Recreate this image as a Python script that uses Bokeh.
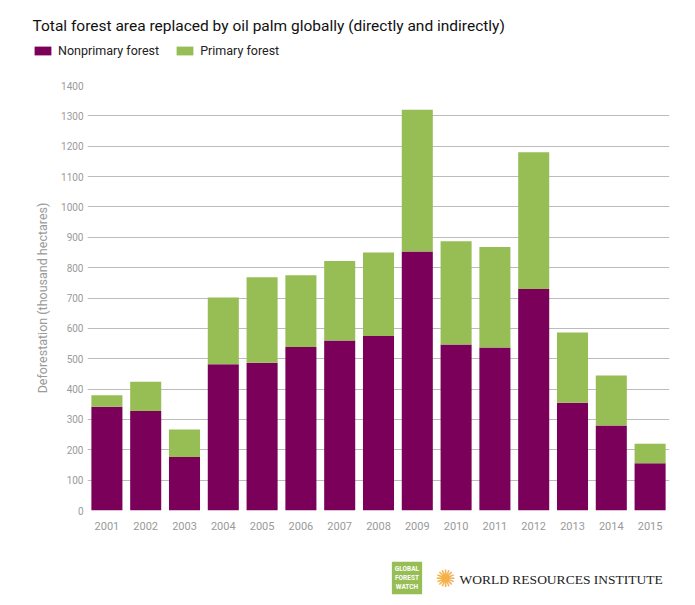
from bokeh.plotting import figure
from bokeh.models import FactorRange, Range1d, FixedTicker, Label, Legend, LegendItem
from bokeh.embed import file_html
from bokeh.resources import INLINE

years = ["2001", "2002", "2003", "2004", "2005", "2006", "2007", "2008",
         "2009", "2010", "2011", "2012", "2013", "2014", "2015"]
nonprimary = [342, 328, 176, 482, 487, 539, 560, 575, 853, 547, 537, 730, 355, 280, 156]
primary = [38, 96, 91, 220, 281, 236, 262, 275, 467, 340, 331, 450, 231, 165, 64]
y_ticks = [0, 100, 200, 300, 400, 500, 600, 700, 800, 900, 1000, 1100, 1200, 1300, 1400]
series_labels = ["Nonprimary forest", "Primary forest"]
title_text = "Total forest area replaced by oil palm globally (directly and indirectly)"

PURPLE = "#7b005a"
GREEN = "#97bd55"
GRAY = "#9a9a9a"
FONT = "Roboto"
W = 687

src = dict(years=years, nonprimary=nonprimary, primary=primary)


def blank(height, y_range):
    f = figure(width=W, height=height, output_backend="svg", toolbar_location=None,
               x_range=FactorRange(*years, range_padding=0), y_range=y_range,
               x_axis_location=None, y_axis_location=None,
               min_border=0, min_border_left=0, min_border_right=0,
               min_border_top=0, min_border_bottom=0)
    f.grid.visible = False
    f.outline_line_color = None
    return f


# ---- header: title + legend (legend renderers: the same stacks, far out of view)
head = blank(68, Range1d(50000, 50001))
hr = head.vbar_stack(["nonprimary", "primary"], x="years", source=src, width=0.8,
                     color=[PURPLE, GREEN], line_color=None)
head.add_layout(Label(x=32, y=43, x_units="screen", y_units="screen", text=title_text,
                      text_font=FONT, text_font_size="15.5px", text_color="#111111",
                      text_baseline="alphabetic"))
legend = Legend(items=[LegendItem(label=series_labels[0], renderers=[hr[0]]),
                       LegendItem(label=series_labels[1], renderers=[hr[1]])],
                location=(32, 10), orientation="horizontal",
                glyph_width=21, glyph_height=11, label_height=11, label_standoff=5,
                spacing=15, padding=0, margin=0, border_line_color=None,
                background_fill_alpha=0, label_text_font=FONT,
                label_text_font_size="12.5px", label_text_color="#222222")
head.add_layout(legend, "center")

# ---- main chart
p = figure(width=W, height=477, output_backend="svg", toolbar_location=None,
           x_range=FactorRange(*years, range_padding=0), y_range=Range1d(0, 1400),
           min_border_left=87, min_border_right=18, min_border_top=17, min_border_bottom=35)

p.vbar_stack(["nonprimary", "primary"], x="years", source=src, width=0.8,
             color=[PURPLE, GREEN], line_color=None)

p.outline_line_color = None
p.xgrid.grid_line_color = None
p.ygrid.grid_line_color = "#bcbcbc"
p.ygrid.grid_line_width = 1
p.yaxis.ticker = FixedTicker(ticks=y_ticks)
for ax in (p.xaxis[0], p.yaxis[0]):
    ax.axis_line_color = None
    ax.major_tick_line_color = None
    ax.major_tick_out = 0
    ax.major_tick_in = 0
    ax.minor_tick_line_color = None
    ax.major_label_text_color = GRAY
    ax.major_label_text_font = FONT
p.yaxis.major_label_text_font_size = "10px"
p.yaxis.major_label_standoff = 4
p.xaxis.major_label_text_font_size = "11px"
p.xaxis.major_label_standoff = 11
p.yaxis.axis_label = "Deforestation (thousand hectares)"
p.yaxis.axis_label_text_font = FONT
p.yaxis.axis_label_text_font_size = "12.5px"
p.yaxis.axis_label_text_font_style = "normal"
p.yaxis.axis_label_text_color = GRAY
p.yaxis.axis_label_standoff = 8

# ---- footer: logos
foot = blank(52, Range1d(0, 1))
foot.add_layout(Label(x=406.5, y=19.5, x_units="screen", y_units="screen",
                      text="GLOBAL\nFOREST\nWATCH", text_font=FONT, text_align="center",
                      text_baseline="middle", text_font_size="6.5px", text_font_style="bold",
                      text_color="white", background_fill_color=GREEN, padding=3,
                      text_line_height=1.15))
foot.add_layout(Label(x=445, y=19, x_units="screen", y_units="screen", text="✺",
                      text_font="DejaVu Sans", text_font_size="24px", text_align="center",
                      text_baseline="middle", text_color="#f4b04a"))
foot.add_layout(Label(x=459, y=18, x_units="screen", y_units="screen",
                      text="WORLD RESOURCES INSTITUTE", text_font="Liberation Serif",
                      text_font_size="13.5px", text_color="#222222", text_baseline="middle"))

open("out.html", "w").write(file_html([head, p, foot], INLINE))
